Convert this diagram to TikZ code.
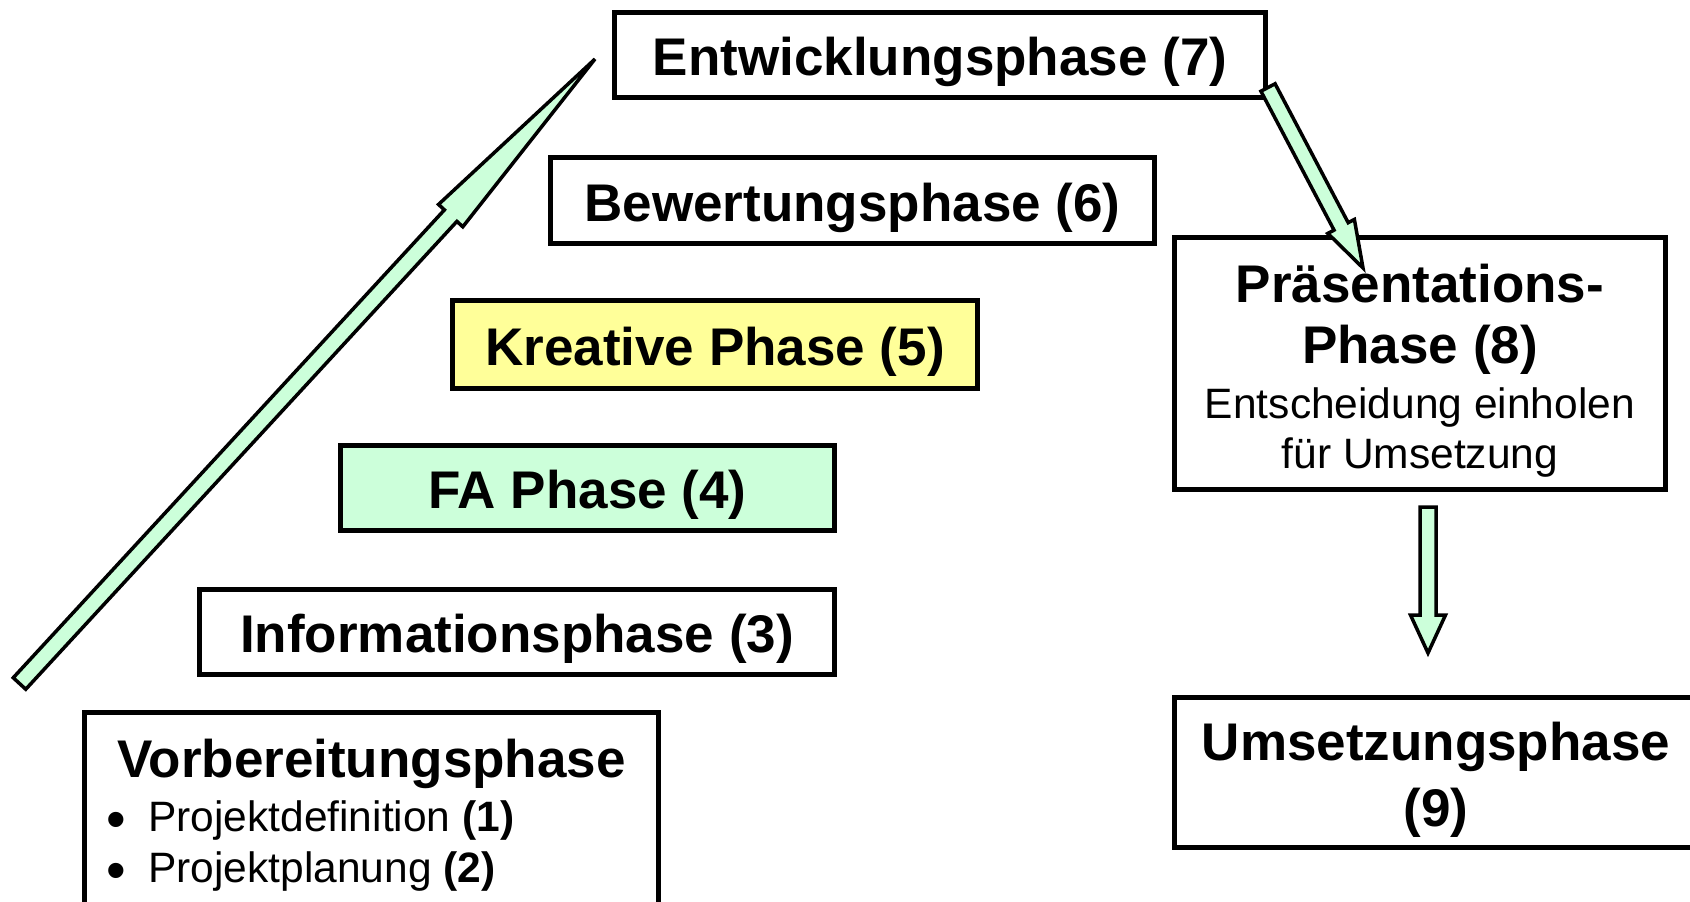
\documentclass[tikz,border=0pt]{standalone}
\usepackage{fontspec}
\setmainfont{Liberation Sans}
\usetikzlibrary{calc}
\definecolor{lgreen}{RGB}{204,255,218}
\definecolor{lyellow}{RGB}{255,255,153}
\newcommand\blockarrow[5]{%
  \coordinate (#1-b) at ($(#2)!#5!(#1)$);
  \draw[blockarr] ($(#1)!#3!90:(#2)$) -- ($(#1-b)!#3!90:(#2)$) -- ($(#1-b)!#4!90:(#2)$) -- (#2)
     -- ($(#1-b)!#4!-90:(#2)$) -- ($(#1-b)!#3!-90:(#2)$) -- ($(#1)!#3!-90:(#2)$) -- cycle;}
\begin{document}
\begin{tikzpicture}[x=1pt,y=-1pt,
  phasebox/.style={draw, line width=5pt, inner sep=0pt,
    font=\fontsize{53}{60}\selectfont\bfseries, text height=41pt, text depth=0pt},
  titletext/.style={inner sep=0pt, font=\fontsize{53}{60}\selectfont\bfseries},
  bodytext/.style={inner sep=0pt, font=\fontsize{42.5}{48}\selectfont},
  bullettext/.style={inner sep=0pt, font=\fontsize{56}{60}\selectfont},
  blockarr/.style={draw=black, fill=lgreen, line width=3.5pt, line join=miter}]
\fill[white] (0,0) rectangle (1690,902);
\useasboundingbox (0,0) rectangle (1690,902);

% boxes
\node[phasebox, minimum width=651pt, minimum height=85pt] (entw) at (940,55) {Entwicklungsphase (7)};
\node[phasebox, minimum width=604pt, minimum height=86pt] (bew) at (852.5,200.5) {Bewertungsphase (6)};
\node[phasebox, fill=lyellow, minimum width=525pt, minimum height=88pt] (krea) at (715,344.5) {Kreative Phase (5)};
\node[phasebox, fill=lgreen, minimum width=494pt, minimum height=85pt] (fa) at (587.5,488) {FA Phase (4)};
\node[phasebox, minimum width=635pt, minimum height=85pt] (info) at (517,632) {Informationsphase (3)};
\node[phasebox, minimum width=574pt, minimum height=215pt] (vorb) at (371.5,820) {};
\node[phasebox, minimum width=491pt, minimum height=252pt] (praes) at (1420,363.5) {};
\node[phasebox, minimum width=543pt, minimum height=150pt] (ums) at (1446,772.5) {};

% arrows
\coordinate (a1t) at (19.5,683.5);
\coordinate (a1h) at (595,59);
\blockarrow{a1t}{a1h}{8.5pt}{16.5pt}{213pt}
\coordinate (a2t) at (1268,87.5);
\coordinate (a2h) at (1363,268);
\blockarrow{a2t}{a2h}{8pt}{15pt}{47pt}
\coordinate (a3t) at (1428,507);
\coordinate (a3h) at (1428,653);
\blockarrow{a3t}{a3h}{8pt}{17.5pt}{38pt}

% texts
\node[titletext, anchor=base] (vorbt) at (371.5,777) {Vorbereitungsphase};
\node[bullettext, anchor=base] (bul1) at (116,838) {•};
\node[bodytext, anchor=base west] (vp1) at (148,831) {Projektdefinition \textbf{(1)}};
\node[bullettext, anchor=base] (bul2) at (116,889) {•};
\node[bodytext, anchor=base west] (vp2) at (148,882) {Projektplanung \textbf{(2)}};

\node[titletext, anchor=base] (pt1) at (1420,302) {Präsentations-};
\node[titletext, anchor=base] (pt2) at (1420,363) {Phase (8)};
\node[bodytext, anchor=base] (pt3) at (1420,418) {Entscheidung einholen};
\node[bodytext, anchor=base] (pt4) at (1420,468) {für Umsetzung};

\node[titletext, anchor=base] (ut1) at (1436,760) {Umsetzungsphase};
\node[titletext, anchor=base] (ut2) at (1436,826) {(9)};
\end{tikzpicture}
\end{document}
